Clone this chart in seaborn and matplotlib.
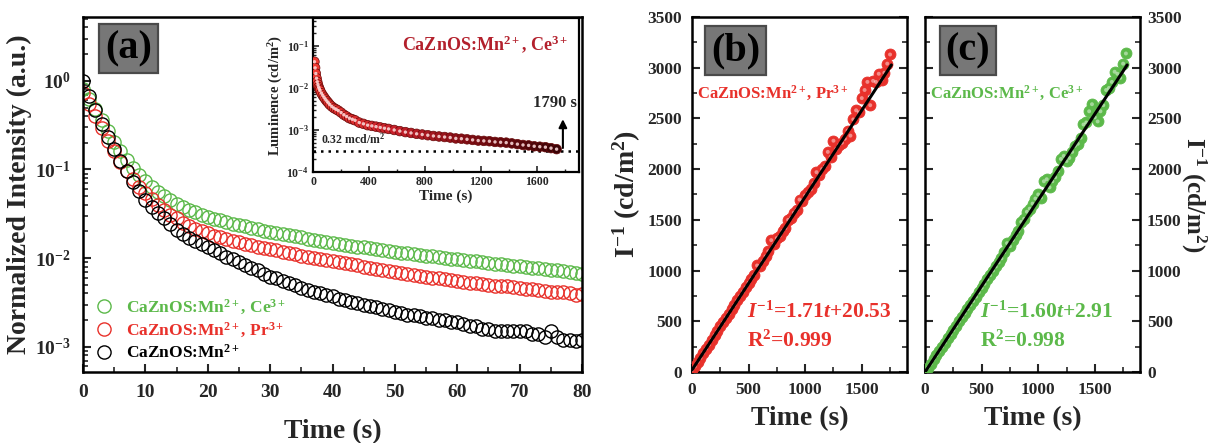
import numpy as np
import pandas as pd
import matplotlib
matplotlib.use("Agg")
import matplotlib.pyplot as plt
import seaborn as sns
from matplotlib.colors import LinearSegmentedColormap
from matplotlib.ticker import MultipleLocator, LogLocator, NullFormatter

# ---- panel (a): normalized decay curves, t = 0..80 s
t_decay = list(range(0, 81))
mn_only = [1.0, 0.68, 0.47, 0.33, 0.235, 0.17, 0.125, 0.095, 0.073, 0.057,
           0.045, 0.038, 0.032, 0.028, 0.024, 0.021, 0.0188, 0.017, 0.0155, 0.0143,
           0.0133, 0.0122, 0.0113, 0.0104, 0.0097, 0.009, 0.0084, 0.0078, 0.0073, 0.0067,
           0.0062, 0.0059, 0.0055, 0.0052, 0.005, 0.0046, 0.0044, 0.0042, 0.004, 0.0038,
           0.0037, 0.0035, 0.0034, 0.0032, 0.0031, 0.003, 0.0029, 0.0028, 0.0027, 0.0026,
           0.0025, 0.0024, 0.0023, 0.0023, 0.0022, 0.0021, 0.0021, 0.002, 0.002, 0.0019,
           0.0019, 0.0018, 0.0017, 0.0017, 0.0016, 0.0016, 0.0015, 0.0015, 0.0015, 0.0015,
           0.0015, 0.0015, 0.0014, 0.0014, 0.0013, 0.0015, 0.0013, 0.0012, 0.0012, 0.00115,
           0.00118]
mn_pr = [0.72, 0.55, 0.4, 0.29, 0.21, 0.16, 0.122, 0.097, 0.078, 0.064,
         0.054, 0.046, 0.04, 0.035, 0.031, 0.028, 0.025, 0.023, 0.0215, 0.02,
         0.019, 0.018, 0.0172, 0.0165, 0.0158, 0.0151, 0.0145, 0.014, 0.0135, 0.0131,
         0.0127, 0.0122, 0.0118, 0.0114, 0.011, 0.0107, 0.0104, 0.0101, 0.0098, 0.0095,
         0.0092, 0.009, 0.0088, 0.0085, 0.0083, 0.008, 0.0078, 0.0076, 0.0074, 0.0072,
         0.007, 0.0068, 0.0066, 0.0065, 0.0063, 0.0062, 0.006, 0.0059, 0.0058, 0.0056,
         0.0055, 0.0054, 0.0053, 0.0052, 0.0051, 0.005, 0.0049, 0.0048, 0.0048, 0.0047,
         0.0046, 0.0045, 0.0045, 0.0044, 0.0043, 0.0042, 0.0041, 0.0041, 0.004, 0.0038,
         0.0039]
mn_ce = [0.8, 0.63, 0.48, 0.36, 0.27, 0.205, 0.16, 0.127, 0.104, 0.087,
         0.074, 0.064, 0.056, 0.05, 0.045, 0.041, 0.038, 0.035, 0.033, 0.031,
         0.029, 0.0278, 0.0266, 0.0255, 0.0245, 0.0236, 0.0228, 0.022, 0.0212, 0.0205,
         0.0199, 0.0193, 0.0187, 0.0181, 0.0176, 0.0171, 0.0166, 0.0161, 0.0157, 0.0153,
         0.0149, 0.0145, 0.0141, 0.0138, 0.0135, 0.0132, 0.0129, 0.0126, 0.0123, 0.012,
         0.0118, 0.0115, 0.0113, 0.0111, 0.0109, 0.0107, 0.0105, 0.0103, 0.0101, 0.0099,
         0.0097, 0.0095, 0.0093, 0.0092, 0.009, 0.0088, 0.0087, 0.0085, 0.0084, 0.0082,
         0.0081, 0.0079, 0.0078, 0.0077, 0.0075, 0.0074, 0.0073, 0.0071, 0.007, 0.0068,
         0.0066]
decay_labels = [r"CaZnOS:Mn$^{2+}$, Ce$^{3+}$", r"CaZnOS:Mn$^{2+}$, Pr$^{3+}$", r"CaZnOS:Mn$^{2+}$"]

# ---- inset: luminance of the Ce sample (cd/m2)
t_lum = [10, 15, 20, 25, 30, 35, 40, 45, 50, 60, 70, 80, 90, 100, 110, 120, 135, 150, 165, 180,
         200, 220, 240, 260, 280, 300, 330, 360, 390, 420, 450, 480, 510, 540, 580, 620, 660, 700,
         740, 780, 820, 860, 900, 940, 980, 1020, 1060, 1100, 1140, 1180, 1220, 1260, 1300, 1340,
         1380, 1420, 1460, 1500, 1540, 1580, 1620, 1660, 1700, 1740]
lum = [0.042, 0.030, 0.022, 0.017, 0.014, 0.012, 0.0105, 0.0095, 0.0087, 0.0075, 0.0066, 0.0059,
       0.0053, 0.0048, 0.0044, 0.0040, 0.0036, 0.0033, 0.0031, 0.0029, 0.0026, 0.0023, 0.0021,
       0.0019, 0.0018, 0.0017, 0.0015, 0.0014, 0.0013, 0.00125, 0.0012, 0.00115, 0.0011, 0.00106,
       0.001, 0.00094, 0.00089, 0.00085, 0.00081, 0.00078, 0.00075, 0.00072, 0.0007, 0.00068,
       0.00066, 0.00063, 0.00062, 0.0006, 0.00058, 0.00056, 0.00055, 0.00054, 0.00052, 0.00051,
       0.0005, 0.00048, 0.00046, 0.00044, 0.00043, 0.00041, 0.0004, 0.00039, 0.00037, 0.00035]
threshold = 3.2e-4

# ---- panels (b), (c): inverse intensity vs time
t_pr = list(range(0, 1751, 25))
inv_pr = [20, 55, 100, 140, 190, 230, 270, 320, 365, 405, 450, 490, 535, 575, 620, 660, 705, 750,
          790, 835, 880, 920, 960, 1050, 1045, 1090, 1140, 1190, 1300, 1260, 1320, 1340, 1390, 1420,
          1500, 1520, 1570, 1600, 1700, 1690, 1740, 1770, 1800, 1860, 1970, 1940, 2000, 2030, 2170,
          2120, 2280, 2200, 2240, 2260, 2300, 2380, 2330, 2490, 2580, 2560, 2700, 2780, 2860, 2630,
          2870, 2860, 2940, 2880, 2950, 3040, 3130]
fit_line_pr = ([0, 1762], [20, 3027])

t_ce = list(range(0, 1776, 25))
inv_ce = [5, 42, 82, 125, 165, 205, 248, 290, 332, 372, 414, 455, 498, 540, 580, 620, 662, 700,
          742, 785, 830, 870, 912, 955, 1000, 1040, 1080, 1120, 1180, 1270, 1240, 1300, 1350, 1390,
          1480, 1510, 1580, 1610, 1660, 1710, 1750, 1720, 1880, 1900, 1820, 1880, 1920, 1980, 2100,
          2130, 2080, 2110, 2170, 2230, 2250, 2310, 2440, 2460, 2570, 2640, 2510, 2470, 2570, 2630,
          2780, 2800, 2860, 2960, 2940, 2900, 3040, 3140]
fit_line_ce = ([0, 1786], [0, 3027])

RED = "#e8312b"
GREEN = "#5cb94a"
DARKRED = "#b3202c"

sns.set_style("ticks")
plt.rcParams["font.family"] = ["Liberation Serif", "DejaVu Serif"]
plt.rcParams["font.weight"] = "bold"
plt.rcParams["axes.labelweight"] = "bold"
plt.rcParams["mathtext.fontset"] = "custom"
plt.rcParams["mathtext.rm"] = "Liberation Serif:bold"
plt.rcParams["mathtext.bf"] = "Liberation Serif:bold"
plt.rcParams["mathtext.it"] = "Liberation Serif:bold:italic"
plt.rcParams["xtick.direction"] = "in"
plt.rcParams["ytick.direction"] = "in"

fig = plt.figure(figsize=(12.1, 4.43), dpi=100)


def style_axes(ax, lw=1.8):
    for s in ax.spines.values():
        s.set_linewidth(lw)
        s.set_color("black")


def label_box(ax, txt, x, y):
    ax.text(x, y, txt, transform=ax.transAxes, ha="center", va="center", fontsize=29,
            fontweight="bold", color="black", zorder=10,
            bbox=dict(boxstyle="square,pad=0.15", fc="#777777", ec="#4a4a4a", lw=1.6))


# ----- (a)
ax_a = fig.add_axes([0.0686, 0.1603, 0.4124, 0.8014])
df_a = pd.DataFrame({"t": t_decay, "ce": mn_ce, "pr": mn_pr, "mn": mn_only})
for col, c, lab in zip(["ce", "pr", "mn"], [GREEN, RED, "black"], decay_labels):
    sns.lineplot(data=df_a, x="t", y=col, ax=ax_a, marker="o", linestyle="none", ms=9.5,
                 mfc="none", mec=c, mew=1.0, color=c, label=lab, clip_on=True)
ax_a.set_yscale("log")
ax_a.set_xlim(0, 80)
ax_a.set_ylim(5.2e-4, 5.25)
ax_a.xaxis.set_major_locator(MultipleLocator(10))
ax_a.xaxis.set_minor_locator(MultipleLocator(5))
ax_a.yaxis.set_major_locator(LogLocator(base=10, numticks=10))
ax_a.yaxis.set_minor_locator(LogLocator(base=10, subs=np.arange(2, 10), numticks=20))
ax_a.yaxis.set_minor_formatter(NullFormatter())
ax_a.tick_params(which="major", length=6, width=1.5, labelsize=14, pad=9)
ax_a.tick_params(which="minor", length=3.5, width=1.2)
ax_a.set_xlabel("Time (s)", fontsize=20, labelpad=13)
ax_a.set_ylabel("Normalized Intensity (a.u.)", fontsize=20, labelpad=2)
style_axes(ax_a)
leg = ax_a.legend(loc="lower left", bbox_to_anchor=(0.0, -0.005), frameon=False, fontsize=12.5,
                  labelcolor=[GREEN, RED, "black"], handlelength=1.0, handletextpad=0.8,
                  borderaxespad=0.3, labelspacing=0.22)
label_box(ax_a, "(a)", 0.092, 0.91)

# ----- inset
ax_in = fig.add_axes([0.2587, 0.6117, 0.2198, 0.3476])
df_in = pd.DataFrame({"t": t_lum, "L": lum})
cmap = LinearSegmentedColormap.from_list("redfade", ["#f03a32", "#c8202a", "#7a0c12", "#3c0306"])
sns.scatterplot(data=df_in, x="t", y="L", hue="t", palette=cmap, legend=False, ax=ax_in,
                s=48, edgecolor="#6a0a0a", linewidth=0.5, zorder=3)
sns.scatterplot(data=df_in, x="t", y="L", ax=ax_in, s=6, color="#ffdede", edgecolor="none",
                alpha=0.85, zorder=4)
ax_in.axhline(threshold, ls=(0, (1, 2)), lw=1.8, color="black", zorder=2)
ax_in.text(60, 4.0e-4, r"0.32 mcd/m$^2$", fontsize=8.5, ha="left", va="bottom")
ax_in.annotate("", xy=(1785, 2.1e-3), xytext=(1785, 3.2e-4),
               arrowprops=dict(arrowstyle="-|>", lw=1.5, color="black", mutation_scale=12))
ax_in.text(1730, 2.8e-3, "1790 s", fontsize=12, ha="center", va="bottom")
ax_in.text(0.96, 0.9, r"CaZnOS:Mn$^{2+}$, Ce$^{3+}$", transform=ax_in.transAxes, fontsize=13,
           color=DARKRED, ha="right", va="top")
ax_in.set_yscale("log")
ax_in.set_xlim(0, 1900)
ax_in.set_ylim(1e-4, 0.46)
ax_in.xaxis.set_major_locator(MultipleLocator(400))
ax_in.xaxis.set_minor_locator(MultipleLocator(200))
ax_in.yaxis.set_major_locator(LogLocator(base=10, numticks=10))
ax_in.yaxis.set_minor_locator(LogLocator(base=10, subs=np.arange(2, 10), numticks=20))
ax_in.yaxis.set_minor_formatter(NullFormatter())
ax_in.tick_params(which="major", length=4, width=1.2, labelsize=8.5, pad=3)
ax_in.tick_params(which="minor", length=2.5, width=1.0)
ax_in.set_xlabel("Time (s)", fontsize=11, labelpad=1)
ax_in.set_ylabel(r"Luminence (cd/m$^2$)", fontsize=10.5, labelpad=1)
ax_in.set_facecolor("white")
style_axes(ax_in, 1.6)


# ----- (b) and (c)
def inverse_panel(ax, t, inv, fit_line, c, name, eq, r2):
    df = pd.DataFrame({"t": t, "inv": inv})
    sns.scatterplot(data=df, x="t", y="inv", ax=ax, s=62, color=c, edgecolor=c, linewidth=0.6,
                    zorder=3)
    sns.scatterplot(data=df, x="t", y="inv", ax=ax, s=8, color="white", edgecolor="none",
                    alpha=0.45, zorder=4)
    line = pd.DataFrame({"t": fit_line[0], "y": fit_line[1]})
    sns.lineplot(data=line, x="t", y="y", ax=ax, color="black", lw=2.2, zorder=5)
    ax.set_xlim(0, 1900)
    ax.set_ylim(0, 3500)
    ax.xaxis.set_major_locator(MultipleLocator(500))
    ax.xaxis.set_minor_locator(MultipleLocator(250))
    ax.yaxis.set_major_locator(MultipleLocator(500))
    ax.yaxis.set_minor_locator(MultipleLocator(250))
    ax.tick_params(which="major", length=6, width=1.5, labelsize=12.5, left=True, right=True, pad=7)
    ax.tick_params(which="minor", length=3.5, width=1.2, left=True, right=True)
    ax.set_xlabel("Time (s)", fontsize=20, labelpad=6)
    ax.text(40, 2750, name, fontsize=12, color=c, ha="left", va="center", zorder=6)
    ax.text(490, 590, eq, fontsize=15.5, color=c, ha="left", va="center")
    ax.text(490, 300, r2, fontsize=15.5, color=c, ha="left", va="center")
    style_axes(ax)


ax_b = fig.add_axes([0.5719, 0.1603, 0.1777, 0.8014])
inverse_panel(ax_b, t_pr, inv_pr, fit_line_pr, RED, r"CaZnOS:Mn$^{2+}$, Pr$^{3+}$",
              r"$I^{-1}$=1.71$t$+20.53", r"R$^2$=0.999")
ax_b.set_ylabel(r"I$^{-1}$ (cd/m$^2$)", fontsize=20, labelpad=3)
label_box(ax_b, "(b)", 0.202, 0.905)

ax_c = fig.add_axes([0.7645, 0.1603, 0.1777, 0.8014])
inverse_panel(ax_c, t_ce, inv_ce, fit_line_ce, GREEN, r"CaZnOS:Mn$^{2+}$, Ce$^{3+}$",
              r"$I^{-1}$=1.60$t$+2.91", r"R$^2$=0.998")
ax_c.tick_params(axis="y", which="both", labelleft=False, labelright=True, pad=5)
ax_c.yaxis.set_label_position("right")
ax_c.set_ylabel(r"I$^{-1}$ (cd/m$^2$)", fontsize=18, rotation=270, labelpad=19)
label_box(ax_c, "(c)", 0.2, 0.905)

fig.savefig("out.png", dpi=100)
